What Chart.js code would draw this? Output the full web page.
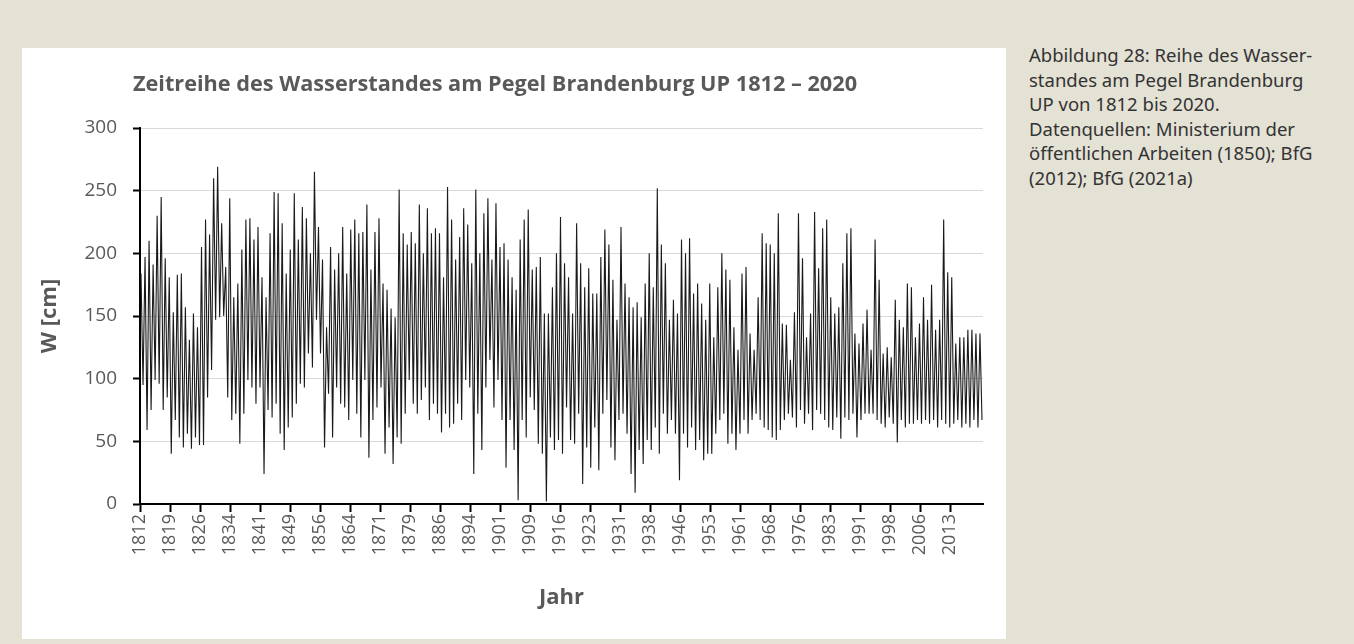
<!DOCTYPE html>
<html><head><meta charset="utf-8">
<script src="https://cdn.jsdelivr.net/npm/chart.js@4"></script>
<style>
html,body{margin:0;padding:0;background:#e4e1d5;width:1354px;height:644px;overflow:hidden;}
#panel{position:absolute;left:22px;top:48px;width:984px;height:591px;background:#fff;}
#title{position:absolute;left:0;top:20px;width:946px;text-align:center;font:bold 21.7px "Open Sans";color:#595959;white-space:nowrap;}
#chartbox{position:absolute;left:0;top:0;width:984px;height:591px;}
#caption{position:absolute;left:1029px;top:43px;font:18.5px/24.5px "Noto Sans";color:#333;white-space:nowrap;}
</style></head>
<body>
<div id="panel">
  <div id="chartbox"><canvas id="c"></canvas></div>
  <div id="title">Zeitreihe des Wasserstandes am Pegel Brandenburg UP 1812 – 2020</div>
</div>
<div id="caption">Abbildung 28: Reihe des Wasser-<br>standes am Pegel Brandenburg<br>UP von 1812 bis 2020.<br>Datenquellen: Ministerium der<br>öffentlichen Arbeiten (1850); BfG<br>(2012); BfG (2021a)</div>
<script>
const firstYear = 1812;
const lastYear = 2020;
// annual high water level (cm), 1812..2020
const annualHigh = [
184,197,210,191,230,245,196,181,153,183,184,157,131,152,141,205,227,215,260,269,224,189,244,165,176,203,227,
228,211,221,181,165,216,249,248,224,184,203,248,211,237,228,200,265,221,195,141,205,187,200,221,184,219,
227,216,217,239,187,217,228,176,171,156,149,251,216,207,217,208,239,200,236,216,220,216,181,253,227,195,
213,236,223,192,251,200,232,244,195,240,205,208,195,181,171,211,227,235,187,189,197,152,152,173,200,229,192,
181,152,224,192,173,188,168,168,197,219,207,179,147,221,176,165,157,161,149,176,200,173,252,207,192,147,
163,152,211,200,212,168,176,160,147,176,133,173,200,187,179,141,123,184,189,136,123,165,216,208,207,200,
232,144,143,115,153,232,196,133,152,233,188,220,227,165,152,157,192,216,220,136,128,144,155,123,211,179,
120,125,117,163,147,141,176,173,133,144,165,147,175,139,147,227,185,181,128,133,133,139,139,136,136
];
// annual low water level (cm), 1812..2020
const annualLow = [
95,59,75,99,96,75,85,40,67,53,45,56,44,53,47,47,85,107,147,149,150,85,67,72,48,72,99,
93,80,93,24,75,69,80,56,43,61,69,80,96,93,120,109,147,120,45,88,53,93,80,77,67,99,
72,53,99,37,67,77,93,40,61,32,53,48,72,99,80,72,83,93,67,80,72,57,72,61,64,80,
67,99,93,24,72,43,93,115,77,99,67,29,67,43,3,67,53,85,75,48,40,2,53,43,51,40,77,
51,48,72,16,45,29,61,27,72,83,45,35,67,72,56,24,9,43,32,51,43,61,40,72,56,67,
56,19,56,45,61,43,51,35,40,40,56,67,72,48,56,43,56,67,56,67,72,67,61,59,53,51,
59,67,72,69,61,75,64,72,59,75,72,67,61,59,69,52,69,67,72,53,67,72,72,72,67,64,
61,69,64,49,67,61,64,64,67,64,67,64,67,61,67,64,61,64,67,61,64,61,67,61,67
];
const xTickLabels = ['1812','1819','1826','1834','1841','1849','1856','1864','1871','1879','1886','1894','1901','1909','1916','1923','1931','1938','1946','1953','1961','1968','1976','1983','1991','1998','2006','2013'];
const yTicks = [0,50,100,150,200,250,300];

const points = [];
for (let i = 0; i < annualHigh.length; i++) {
  const yr = firstYear + i;
  points.push({x: yr + 0.25, y: annualHigh[i]});
  points.push({x: yr + 0.75, y: annualLow[i]});
}
const tickStep = 7.44;
const xTickFont = {family: 'Open Sans', size: 18};
const yTickFont = {family: 'Open Sans', size: 19};
const titleFont = {family: 'Open Sans', size: 22, weight: 'bold'};

new Chart(document.getElementById('c'), {
  type: 'line',
  data: {datasets: [{data: points, borderColor: '#1a1a1a', borderWidth: 1.1, pointRadius: 0, tension: 0, fill: false}]},
  options: {
    responsive: true, maintainAspectRatio: false, animation: false,
    layout: {padding: {top: 80, right: 23, bottom: 0, left: 0}},
    plugins: {legend: {display: false}, tooltip: {enabled: false}},
    scales: {
      x: {
        type: 'linear', min: firstYear, max: lastYear + 1,
        afterBuildTicks: s => { s.ticks = xTickLabels.map((l, i) => ({value: firstYear + i * tickStep})); },
        afterFit: s => { s.height = 135; },
        ticks: {autoSkip: false, minRotation: 90, maxRotation: 90, padding: 2, color: '#595959', font: xTickFont,
                callback: (v, i) => xTickLabels[i]},
        grid: {drawOnChartArea: false, drawTicks: true, tickLength: 8, tickColor: '#000', tickWidth: 2},
        border: {color: '#000', width: 2},
        title: {display: true, text: 'Jahr', color: '#595959', font: titleFont, padding: {top: 0, bottom: 28}}
      },
      y: {
        min: 0, max: 300,
        afterBuildTicks: s => { s.ticks = yTicks.map(v => ({value: v})); },
        afterFit: s => { s.width = 118; },
        ticks: {padding: 16, color: '#595959', font: yTickFont},
        grid: {color: '#d9d9d9', lineWidth: 1, tickLength: 7, tickColor: '#000', tickWidth: 2},
        border: {color: '#000', width: 2},
        title: {display: true, text: 'W [cm]', color: '#595959', font: titleFont, padding: {top: 15, bottom: 0}}
      }
    }
  }
});
</script>
</body></html>
